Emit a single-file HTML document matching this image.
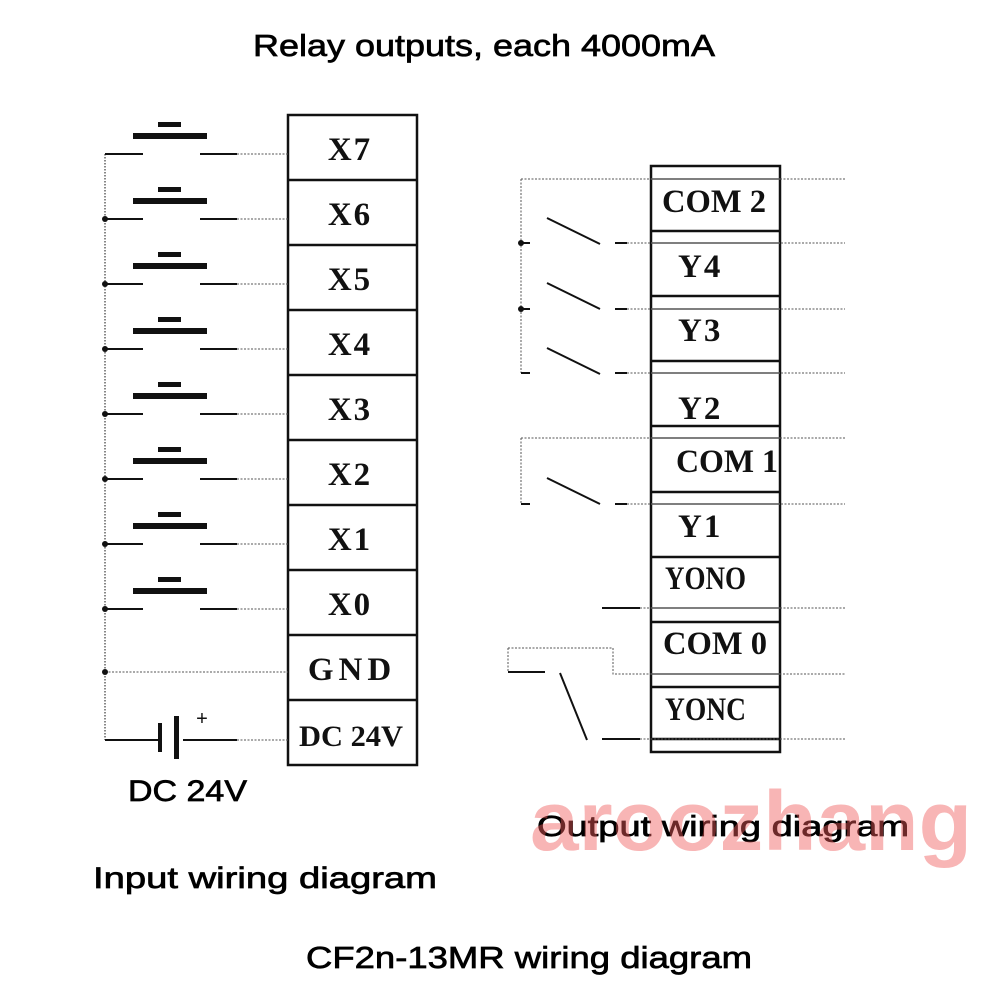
<!DOCTYPE html>
<html><head><meta charset="utf-8"><style>html,body{margin:0;padding:0;background:#fff}svg{display:block}</style></head>
<body>
<svg width="1000" height="1000" viewBox="0 0 1000 1000" xmlns="http://www.w3.org/2000/svg">
<rect width="1000" height="1000" fill="#fff"/>
<g font-family="Liberation Sans, sans-serif" fill="#000" stroke="#000" stroke-width="0.7">
<text x="253" y="56" font-size="31" textLength="462" lengthAdjust="spacingAndGlyphs">Relay outputs, each 4000mA</text>
<text x="128" y="801" font-size="30" textLength="119" lengthAdjust="spacingAndGlyphs">DC 24V</text>
<text x="93" y="888" font-size="30" textLength="344" lengthAdjust="spacingAndGlyphs">Input wiring diagram</text>
<text x="537" y="836" font-size="29" textLength="372" lengthAdjust="spacingAndGlyphs">Output wiring diagram</text>
<text x="306" y="968" font-size="31" textLength="446" lengthAdjust="spacingAndGlyphs">CF2n-13MR wiring diagram</text>
</g>
<!-- Input box -->
<g stroke="#111" stroke-width="2.5" fill="none">
<rect x="288" y="115" width="129" height="650"/>
<path d="M288 180H417M288 245H417M288 310H417M288 375H417M288 440H417M288 505H417M288 570H417M288 635H417M288 700H417"/>
</g>
<g font-family="Liberation Serif, serif" font-size="33" font-weight="bold" fill="#111" text-anchor="middle" letter-spacing="2">
<text x="350" y="160">X7</text><text x="350" y="225">X6</text><text x="350" y="290">X5</text><text x="350" y="355">X4</text>
<text x="350" y="420">X3</text><text x="350" y="485">X2</text><text x="350" y="550">X1</text><text x="350" y="615">X0</text>
<text x="352" y="680" letter-spacing="5">GND</text>
<text x="351" y="746" font-size="30" letter-spacing="0" textLength="104" lengthAdjust="spacingAndGlyphs">DC 24V</text>
</g>
<!-- Input switches -->
<g stroke="#111" stroke-width="2" fill="none">
<path d="M105 154V740"  stroke-dasharray="1.5 1.5" stroke-width="1"/>
<path d="M105 154H143M200 154H237M105 219H143M200 219H237M105 284H143M200 284H237M105 349H143M200 349H237M105 414H143M200 414H237M105 479H143M200 479H237M105 544H143M200 544H237M105 609H143M200 609H237"/>
<path d="M105 740H160M183 740H237"/>
</g>
<g stroke="#555" stroke-width="1" stroke-dasharray="2 1.5">
<path d="M237 154H288M237 219H288M237 284H288M237 349H288M237 414H288M237 479H288M237 544H288M237 609H288M105 672H288M237 740H288"/>
</g>
<g fill="#111">
<rect x="133" y="133" width="74" height="6"/><rect x="158" y="122" width="23" height="5"/>
<rect x="133" y="198" width="74" height="6"/><rect x="158" y="187" width="23" height="5"/>
<rect x="133" y="263" width="74" height="6"/><rect x="158" y="252" width="23" height="5"/>
<rect x="133" y="328" width="74" height="6"/><rect x="158" y="317" width="23" height="5"/>
<rect x="133" y="393" width="74" height="6"/><rect x="158" y="382" width="23" height="5"/>
<rect x="133" y="458" width="74" height="6"/><rect x="158" y="447" width="23" height="5"/>
<rect x="133" y="523" width="74" height="6"/><rect x="158" y="512" width="23" height="5"/>
<rect x="133" y="588" width="74" height="6"/><rect x="158" y="577" width="23" height="5"/>
<circle cx="105" cy="219" r="3"/><circle cx="105" cy="284" r="3"/><circle cx="105" cy="349" r="3"/><circle cx="105" cy="414" r="3"/>
<circle cx="105" cy="479" r="3"/><circle cx="105" cy="544" r="3"/><circle cx="105" cy="609" r="3"/><circle cx="105" cy="672" r="3"/>
<rect x="158" y="723" width="4" height="29"/><rect x="174" y="716" width="5" height="43"/>
</g>
<text x="202" y="725" font-family="Liberation Sans, sans-serif" font-size="20" text-anchor="middle" fill="#111">+</text>
<!-- Output box -->
<g stroke="#111" stroke-width="2.5" fill="none">
<rect x="651" y="166" width="129" height="586"/>
<path d="M651 231H780M651 296H780M651 361H780M651 426H780M651 492H780M651 557H780M651 622H780M651 687H780M651 739H780" />
</g>
<g stroke="#555" stroke-width="1.5" fill="none">
<path d="M651 179H780M651 243H780M651 309H780M651 373H780M651 438H780M651 504H780M651 608H780M651 674H780"/>
</g>
<g font-family="Liberation Serif, serif" font-size="33" font-weight="bold" fill="#111">
<text x="662" y="212" textLength="104" lengthAdjust="spacingAndGlyphs">COM 2</text>
<text x="678" y="277" letter-spacing="2">Y4</text>
<text x="678" y="341" letter-spacing="2">Y3</text>
<text x="678" y="419" letter-spacing="2">Y2</text>
<text x="676" y="472" textLength="102" lengthAdjust="spacingAndGlyphs">COM 1</text>
<text x="678" y="537" letter-spacing="2">Y1</text>
<text x="665" y="589" textLength="81" lengthAdjust="spacingAndGlyphs">YONO</text>
<text x="663" y="654" textLength="104" lengthAdjust="spacingAndGlyphs">COM 0</text>
<text x="665" y="720" textLength="81" lengthAdjust="spacingAndGlyphs">YONC</text>
</g>
<g stroke="#555" stroke-width="1" stroke-dasharray="2 1.5" fill="none">
<path d="M521 179H845M521 179V373M627 243H845M627 309H845M627 373H845"/>
<path d="M521 438H845M521 438V504M627 504H845"/>
<path d="M640 608H845"/>
<path d="M508 648H613V674H845M508 648V672"/>
<path d="M640 739H845"/>
</g>
<g stroke="#111" stroke-width="2" fill="none">
<path d="M521 243H530M521 309H530M521 373H530M521 504H530"/>
<path d="M547 218L600 244M547 283L600 309M547 348L600 374M547 478L600 504"/>
<path d="M615 243H627M615 309H627M615 373H627M615 504H627"/>
<path d="M602 608H640M508 672H545M560 673L587 740M602 739H640"/>
</g>
<g fill="#111"><circle cx="521" cy="243" r="3"/><circle cx="521" cy="309" r="3"/></g>
<!-- watermark -->
<text x="530" y="850" font-family="Liberation Sans, sans-serif" font-size="84" font-weight="bold" fill="#f05a5a" fill-opacity="0.45" textLength="442" lengthAdjust="spacingAndGlyphs">aroozhang</text>
</svg>
</body></html>
